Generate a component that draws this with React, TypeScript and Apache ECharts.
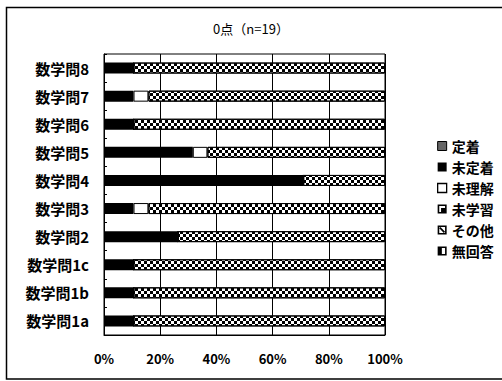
import React, { useEffect, useRef } from "react";
import * as echarts from "echarts";

// Question labels, bottom to top on the category axis
const categories = [
  "数学問1a",
  "数学問1b",
  "数学問1c",
  "数学問2",
  "数学問3",
  "数学問4",
  "数学問5",
  "数学問6",
  "数学問7",
  "数学問8",
];

// Share of respondents (%) per response type
const teichaku = [0, 0, 0, 0, 0, 0, 0, 0, 0, 0];
const miteichaku = [10.5, 10.5, 10.5, 26.3, 10.5, 70.9, 31.6, 10.5, 10.5, 10.5];
const mirikai = [0, 0, 0, 0, 5.3, 0, 5.2, 0, 5.3, 0];
const migakushu = [89.5, 89.5, 89.5, 73.7, 84.2, 29.1, 63.2, 89.5, 84.2, 89.5];
const sonota = [0, 0, 0, 0, 0, 0, 0, 0, 0, 0];
const mukaito = [0, 0, 0, 0, 0, 0, 0, 0, 0, 0];

const xTicks = [0, 20, 40, 60, 80, 100];

const FONT = "'Noto Sans CJK JP', 'Noto Sans', sans-serif";

const FRAME = "M0,0H9V9H0Z M1.6,1.6V7.4H7.4V1.6Z";
const ICON_MIGAKUSHU = `path://${FRAME} M3.4,3.4H7.4V7.4H3.4Z`;
const ICON_SONOTA = `path://${FRAME} M1.6,2.8L2.8,1.6L7.4,6.2L6.2,7.4Z`;
const ICON_MUKAITO = `path://${FRAME} M1.6,1.6H4.2V7.4H1.6Z`;

export default function App() {
  const ref = useRef<HTMLDivElement>(null);

  useEffect(() => {
    if (!ref.current) return;
    const chart = echarts.init(ref.current, null, { renderer: "svg" });

    // checkerboard texture for the "未学習" bars
    const checker = {
      symbol: "rect",
      symbolSize: 1,
      dashArrayX: [
        [3, 3],
        [0, 3, 3, 0],
      ],
      dashArrayY: [3, 0],
      color: "#000",
      rotation: 0,
    };

    const base = {
      type: "bar" as const,
      stack: "total",
      barWidth: 11,
      silent: true,
    };

    chart.setOption({
      animation: false,
      backgroundColor: "#fff",
      textStyle: { fontFamily: FONT },
      title: {
        text: "0点（n=19）",
        left: "center",
        top: 17,
        textStyle: { fontSize: 13, fontWeight: "normal", color: "#000", fontFamily: FONT },
      },
      graphic: [
        {
          type: "rect",
          shape: { x: 6.5, y: 7.5, width: 500, height: 371.5 },
          style: { fill: "none", stroke: "#000", lineWidth: 1.5 },
          silent: true,
          z: -1,
        },
      ],
      grid: {
        left: 104,
        right: 117,
        top: 54,
        bottom: 46,
        show: true,
        borderColor: "#000",
        borderWidth: 1,
        backgroundColor: "transparent",
      },
      legend: {
        orient: "vertical",
        left: 432,
        top: 134,
        itemWidth: 9,
        itemHeight: 9,
        itemGap: 7,
        selectedMode: false,
        textStyle: { fontSize: 14, fontWeight: "bold", color: "#000", fontFamily: FONT },
        data: [
          { name: "定着", icon: "rect", itemStyle: { color: "#666", borderColor: "#000", borderWidth: 1, decal: "none" } },
          { name: "未定着", icon: "rect", itemStyle: { color: "#000", decal: "none" } },
          { name: "未理解", icon: "rect", itemStyle: { color: "#fff", borderColor: "#000", borderWidth: 1.3, decal: "none" } },
          { name: "未学習", icon: ICON_MIGAKUSHU, itemStyle: { color: "#000", borderWidth: 0, decal: "none" } },
          { name: "その他", icon: ICON_SONOTA, itemStyle: { color: "#000", borderWidth: 0, decal: "none" } },
          { name: "無回答", icon: ICON_MUKAITO, itemStyle: { color: "#000", borderWidth: 0, decal: "none" } },
        ],
      },
      xAxis: {
        type: "value",
        min: xTicks[0],
        max: xTicks[xTicks.length - 1],
        interval: 20,
        axisLine: { show: true, lineStyle: { color: "#000", width: 1 } },
        axisTick: { show: false },
        splitLine: { show: true, lineStyle: { color: "#000", width: 1 } },
        axisLabel: {
          formatter: "{value}%",
          fontSize: 13,
          fontWeight: "bold",
          color: "#000",
          margin: 17,
          fontFamily: FONT,
        },
      },
      yAxis: {
        type: "category",
        data: categories,
        axisLine: { show: true, lineStyle: { color: "#000", width: 1 } },
        axisTick: { show: true, inside: true, length: 3, lineStyle: { color: "#000" } },
        splitLine: { show: false },
        axisLabel: {
          fontSize: 15,
          fontWeight: "bold",
          color: "#000",
          margin: 15,
          fontFamily: FONT,
        },
      },
      series: [
        { ...base, name: "定着", data: teichaku, itemStyle: { color: "#666" } },
        { ...base, name: "未定着", data: miteichaku, itemStyle: { color: "#000" } },
        {
          ...base,
          name: "未理解",
          data: mirikai,
          itemStyle: { color: "#fff", borderColor: "#000", borderWidth: 1 },
        },
        {
          ...base,
          name: "未学習",
          data: migakushu,
          itemStyle: { color: "#fff", borderColor: "#000", borderWidth: 1, decal: checker },
        },
        { ...base, name: "その他", data: sonota, itemStyle: { color: "#000" } },
        { ...base, name: "無回答", data: mukaito, itemStyle: { color: "#000" } },
      ],
    });

    return () => chart.dispose();
  }, []);

  return (
    <div
      ref={ref}
      style={{ position: "fixed", left: 0, top: 0, width: 502, height: 381 }}
    />
  );
}
